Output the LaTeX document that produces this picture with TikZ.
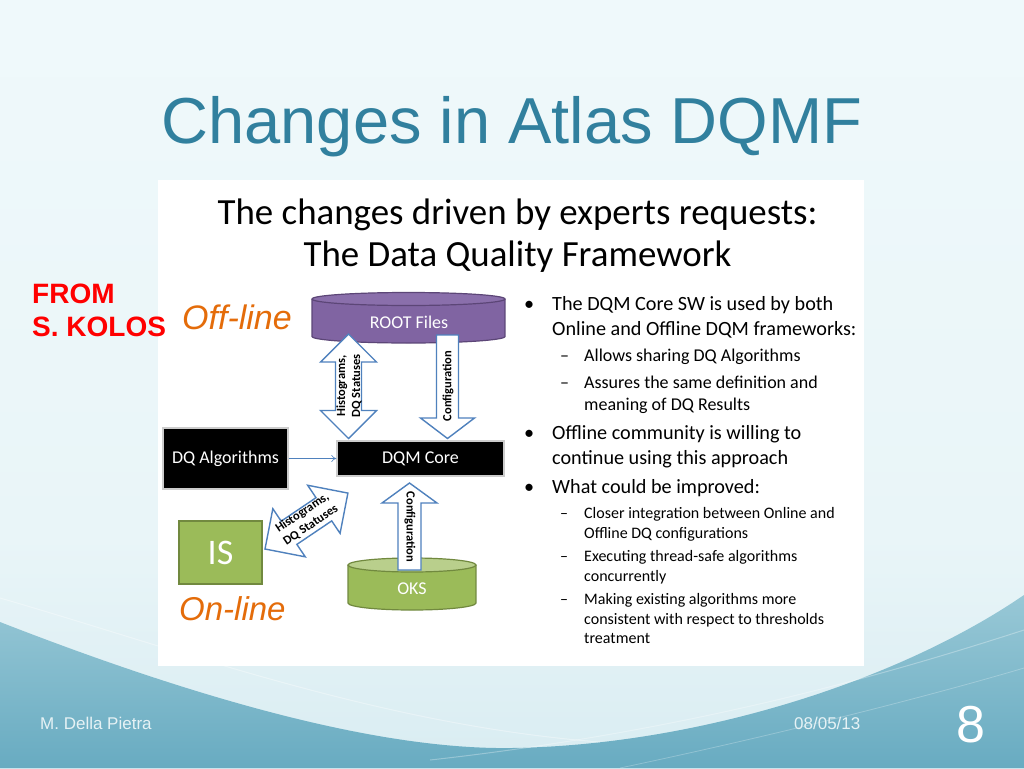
\documentclass[tikz,border=0pt]{standalone}
\usepackage{fontspec}
\setmainfont{Carlito}
\newfontfamily\arialfont{Liberation Sans}
\usetikzlibrary{arrows.meta}
\definecolor{titleblue}{HTML}{31809E}
\definecolor{bgtop}{HTML}{F4FCFD}
\definecolor{bgmid}{HTML}{E9F5F8}
\definecolor{bgbot}{HTML}{BEDEE7}
\definecolor{tealtop}{HTML}{98C8D6}
\definecolor{tealbot}{HTML}{68ABC1}
\definecolor{arrowblue}{HTML}{4F81BD}
\definecolor{purplefill}{HTML}{8064A2}
\definecolor{purpletop}{HTML}{8A6FAB}
\definecolor{purpleline}{HTML}{5C4677}
\definecolor{greenfill}{HTML}{9BBB59}
\definecolor{greentop}{HTML}{B9CF8C}
\definecolor{greenline}{HTML}{71893F}
\definecolor{orangetxt}{HTML}{E46C0A}
\definecolor{footertxt}{HTML}{E6F2F5}
\pgfdeclareverticalshading{bgshade}{100bp}{color(0bp)=(bgbot); color(40bp)=(bgmid); color(100bp)=(bgtop)}
\begin{document}
\begin{tikzpicture}[x=1pt,y=-1pt,
  lbl/.style={text=white, font=\fontsize{18}{21}\selectfont, inner sep=0pt},
  arrlbl/.style={font=\bfseries\fontsize{12.5}{15}\selectfont, align=center, inner sep=0pt},
  blkarrow/.style={fill=white, draw=arrowblue, line width=1.4pt, line join=miter},
  blackbox/.style={fill=black, draw=black!20, line width=1.3pt, text=white, font=\fontsize{18}{21}\selectfont, inner sep=0pt},
  mainbul/.style={anchor=base west, inner sep=0pt, font=\fontsize{20.2}{24}\selectfont},
  subbul/.style={anchor=base west, inner sep=0pt, font=\fontsize{18}{22}\selectfont},
  subsub/.style={anchor=base west, inner sep=0pt, font=\fontsize{16}{19}\selectfont},
  footer/.style={anchor=base west, inner sep=0pt, text=footertxt, font=\arialfont\fontsize{17}{20}\selectfont}
]
\useasboundingbox (0,0) rectangle (1024,768);
% ---------- background ----------
\shade[shading=bgshade] (0,0) rectangle (1024,768);
\shade[top color=tealtop, bottom color=tealbot]
  (0,622) .. controls (200,700) and (380,750) .. (512,748)
  .. controls (700,745) and (900,680) .. (1024,595)
  -- (1024,768) -- (0,768) -- cycle;
\draw[white, opacity=0.35, line width=1pt]
  (0,598) .. controls (180,650) and (380,725) .. (600,742);
\draw[white, opacity=0.3, line width=1pt]
  (430,760) .. controls (700,730) and (900,670) .. (1024,630);
\draw[white, opacity=0.25, line width=0.8pt]
  (620,768) .. controls (800,730) and (950,690) .. (1024,668);
% ---------- title ----------
\node[anchor=base, inner sep=0pt, text=titleblue, font=\arialfont\fontsize{65}{70}\selectfont] (title) at (512,143) {Changes in Atlas DQMF};
% ---------- white panel ----------
\fill[white] (158,180) rectangle (864,666);
\node[anchor=base, inner sep=0pt, font=\fontsize{36.9}{40}\selectfont] (sub1) at (517.5,224) {The changes driven by experts requests:};
\node[anchor=base, inner sep=0pt, font=\fontsize{36.9}{40}\selectfont] (sub2) at (517.5,266) {The Data Quality Framework};
% ---------- left labels ----------
\node[anchor=base west, inner sep=0pt, text=red, font=\arialfont\bfseries\fontsize{28}{32}\selectfont] (from1) at (32,303) {FROM};
\node[anchor=base west, inner sep=0pt, text=red, font=\arialfont\bfseries\fontsize{28}{32}\selectfont] (from2) at (32,336) {S. KOLOS};
\node[anchor=base west, inner sep=0pt, text=orangetxt, font=\arialfont\itshape\fontsize{34}{38}\selectfont] (offline) at (182,329) {Off-line};
\node[anchor=base west, inner sep=0pt, text=orangetxt, font=\arialfont\itshape\fontsize{33}{38}\selectfont] (online) at (179,620) {On-line};
% ---------- ROOT Files cylinder ----------
\fill[purplefill] (312,299) rectangle (505,336.5);
\fill[purplefill] (408.5,336.5) ellipse [x radius=96.5pt, y radius=6.5pt];
\draw[purpleline, line width=1.2pt] (312,299) -- (312,336.5)
  arc[start angle=180, end angle=360, x radius=96.5pt, y radius=6.5pt] -- (505,299);
\draw[purpleline, fill=purpletop, line width=1.2pt] (408.5,299) ellipse [x radius=96.5pt, y radius=6.5pt];
\node[lbl] (root) at (409,322) {ROOT Files};
% ---------- OKS cylinder ----------
\fill[greenfill] (348,565) rectangle (476,603);
\fill[greenfill] (412,603) ellipse [x radius=64pt, y radius=7pt];
\draw[greenline, line width=1.2pt] (348,565) -- (348,603)
  arc[start angle=180, end angle=360, x radius=64pt, y radius=7pt] -- (476,565);
\draw[greenline, fill=greentop, line width=1.2pt] (412,565) ellipse [x radius=64pt, y radius=7pt];
\node[lbl] (oks) at (412,589) {OKS};
% ---------- boxes ----------
\node[blackbox, minimum width=125pt, minimum height=61pt] (dqa) at (225.5,458.5) {DQ Algorithms};
\node[blackbox, minimum width=167pt, minimum height=35pt] (dqm) at (420.5,458.5) {DQM Core};
\node[fill=greenfill, draw=greenline, line width=1.2pt, minimum width=83pt, minimum height=63pt, inner sep=0pt, text=white, font=\fontsize{36}{40}\selectfont] (is) at (220.5,552.5) {IS};
\draw[arrowblue, line width=0.6pt, -{To[length=5pt,width=7pt]}] (dqa.east) -- (dqm.west);
% ---------- block arrows ----------
% offline histograms (double, vertical)
\draw[blkarrow] (348.5,334) -- (376.5,362) -- (361.5,362) -- (361.5,410.5) -- (376.5,410.5)
  -- (348.5,438.5) -- (320.5,410.5) -- (335.5,410.5) -- (335.5,362) -- (320.5,362) -- cycle;
\node[arrlbl, rotate=90] (histoff) at (349,386) {Histograms,\\DQ Statuses};
% offline configuration (down)
\draw[blkarrow] (436.5,335) -- (458.5,335) -- (458.5,418) -- (474.5,418) -- (447.5,438.5)
  -- (420.5,418) -- (436.5,418) -- cycle;
\node[arrlbl, rotate=90] (confoff) at (448,386) {Configuration};
% online configuration (up)
\draw[blkarrow] (409.5,483) -- (437,503) -- (421,503) -- (421,570) -- (398,570) -- (398,503)
  -- (382,503) -- cycle;
\node[arrlbl, rotate=-90] (confon) at (410,527) {Configuration};
% online histograms (double, diagonal)
\begin{scope}[shift={(265,549)}, rotate=34]
\draw[blkarrow] (0,0) -- (29,29) -- (29,14) -- (71,14) -- (71,29) -- (100,0) -- (71,-29)
  -- (71,-14) -- (29,-14) -- (29,-29) -- cycle;
\end{scope}
\node[arrlbl, rotate=34] (histon) at (306.5,519) {Histograms,\\DQ Statuses};
% ---------- bullets ----------
\node[mainbul] (bu1) at (524,310.5) {•};
\node[mainbul] (t1) at (552,310.5) {The DQM Core SW is used by both};
\node[mainbul] (t2) at (552,335.5) {Online and Offline DQM frameworks:};
\node[subbul] (d1) at (560,361.5) {–};
\node[subbul] (t3) at (584,361.5) {Allows sharing DQ Algorithms};
\node[subbul] (d2) at (560,388) {–};
\node[subbul] (t4) at (584,388) {Assures the same definition and};
\node[subbul] (t5) at (584,410) {meaning of DQ Results};
\node[mainbul] (bu2) at (524,439.5) {•};
\node[mainbul] (t6) at (552,439.5) {Offline community is willing to};
\node[mainbul] (t7) at (552,464) {continue using this approach};
\node[mainbul] (bu3) at (524,493) {•};
\node[mainbul] (t8) at (552,493) {What could be improved:};
\node[subsub] (d3) at (560,518) {–};
\node[subsub] (t9) at (584,518) {Closer integration between Online and};
\node[subsub] (t10) at (584,538) {Offline DQ configurations};
\node[subsub] (d4) at (560,561.5) {–};
\node[subsub] (t11) at (584,561.5) {Executing thread-safe algorithms};
\node[subsub] (t12) at (584,581) {concurrently};
\node[subsub] (d5) at (560,604.5) {–};
\node[subsub] (t13) at (584,604.5) {Making existing algorithms more};
\node[subsub] (t14) at (584,624) {consistent with respect to thresholds};
\node[subsub] (t15) at (584,643.5) {treatment};
% ---------- footer ----------
\node[footer] (author) at (40,729) {M. Della Pietra};
\node[footer] (date) at (794,729) {08/05/13};
\node[anchor=base west, inner sep=0pt, text=white, font=\arialfont\fontsize{52}{56}\selectfont] (page) at (956,742) {8};
\end{tikzpicture}
\end{document}
